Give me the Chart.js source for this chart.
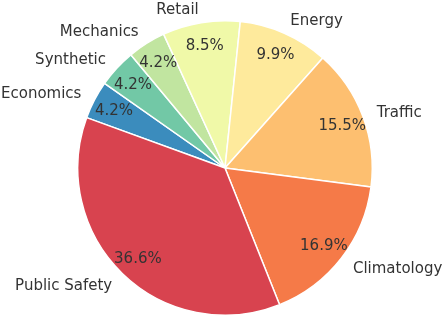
<!DOCTYPE html>
<html>
<head>
<meta charset="utf-8">
<script src="https://cdn.jsdelivr.net/npm/chart.js@4"></script>
<style>
  html, body { margin: 0; padding: 0; background: #fff; }
  #wrap { width: 446px; height: 316px; position: relative; }
</style>
</head>
<body>
<div id="wrap"><canvas id="chart"></canvas></div>
<script>
// clockwise order, starting just above the left edge
const labels = ["Economics", "Synthetic", "Mechanics", "Retail", "Energy", "Traffic", "Climatology", "Public Safety"];
const shares = [4.2, 4.2, 4.2, 8.5, 9.9, 15.5, 16.9, 36.6];
const colors = ["#3b8cbd", "#72c8a6", "#c1e5a0", "#f0f9a8", "#feea9c", "#fdbf70", "#f57a48", "#d8434f"];

const FONT = "15px 'DejaVu Sans', sans-serif";
const TEXT = "#333333";

const pieLabels = {
  id: "pieLabels",
  afterDatasetsDraw(chart) {
    const ctx = chart.ctx;
    const meta = chart.getDatasetMeta(0);
    const total = shares.reduce((a, b) => a + b, 0);
    ctx.save();
    ctx.font = FONT;
    ctx.fillStyle = TEXT;
    ctx.textBaseline = "middle";
    meta.data.forEach((arc, i) => {
      const p = arc.getProps(["x", "y", "startAngle", "endAngle", "outerRadius"], true);
      const mid = (p.startAngle + p.endAngle) / 2;
      const c = Math.cos(mid), s = Math.sin(mid);
      // category name outside
      ctx.textAlign = c >= 0 ? "left" : "right";
      ctx.fillText(labels[i], p.x + c * p.outerRadius * 1.1, p.y + s * p.outerRadius * 1.1 + 1.5);
      // percentage inside
      ctx.textAlign = "center";
      const pct = (shares[i] / total * 100).toFixed(1) + "%";
      ctx.fillText(pct, p.x + c * p.outerRadius * 0.85, p.y + s * p.outerRadius * 0.85 + 1.5);
    });
    ctx.restore();
  }
};

new Chart(document.getElementById("chart"), {
  type: "pie",
  data: {
    labels: labels,
    datasets: [{
      data: shares,
      backgroundColor: colors,
      borderColor: "#ffffff",
      borderWidth: 1.5,
      hoverOffset: 0,
    }],
  },
  options: {
    responsive: true,
    maintainAspectRatio: false,
    animation: false,
    rotation: -70,
    layout: { padding: { top: 20, bottom: 0, left: 4, right: 0 } },
    plugins: {
      legend: { display: false },
      tooltip: { enabled: false },
    },
  },
  plugins: [pieLabels],
});
</script>
</body>
</html>
